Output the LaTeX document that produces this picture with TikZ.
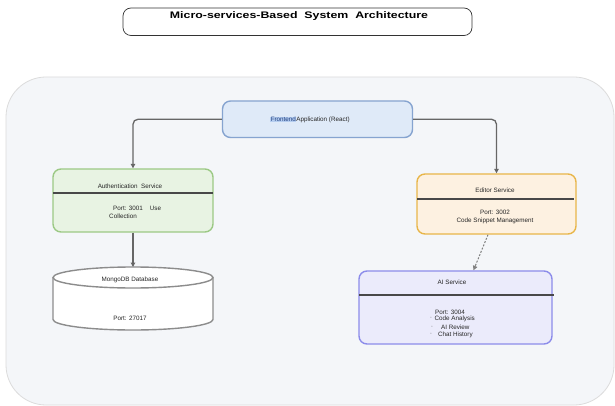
\documentclass[tikz,border=0pt]{standalone}
\usepackage{fontspec}
\setmainfont{Liberation Sans}
\newfontfamily\headfont[FakeStretch=1.3]{Liberation Sans}
\usetikzlibrary{arrows.meta}

\definecolor{panelfill}{HTML}{F4F6F9}
\definecolor{panelline}{HTML}{DCDCDC}
\definecolor{fefill}{HTML}{DFEAF8}
\definecolor{feline}{HTML}{86A4D0}
\definecolor{authfill}{HTML}{E8F3E3}
\definecolor{authline}{HTML}{9CC985}
\definecolor{edfill}{HTML}{FDF1E1}
\definecolor{edline}{HTML}{E8B64A}
\definecolor{aifill}{HTML}{EBEBFB}
\definecolor{ailine}{HTML}{8C8CEA}
\definecolor{linkgray}{HTML}{666666}
\definecolor{divgray}{HTML}{484848}
\definecolor{hlblue}{HTML}{B6CEF0}
\definecolor{hltext}{HTML}{1F3F80}

\tikzset{
  box/.style={draw, rounded corners=8pt, line width=1.4pt, inner sep=0pt},
  label/.style={font=\fontsize{6.3}{7}\selectfont, text=black!85, inner sep=0pt},
  divider/.style={draw=divgray, line width=1.8pt},
  link/.style={draw=linkgray, line width=1.3pt, -{Triangle[length=4.5pt,width=4.5pt]}},
}

\begin{document}
\begin{tikzpicture}[x=1pt,y=-1pt]
\useasboundingbox (0,0) rectangle (615,406);
\fill[white] (0,0) rectangle (615,406);

% background panel
\draw[fill=panelfill, draw=panelline, line width=0.8pt, rounded corners=40pt]
  (6,77) rectangle (614,405);

% title
\node[draw=black!80, line width=0.7pt, rounded corners=8pt, fill=white,
      minimum width=349pt, minimum height=27.5pt, inner sep=0pt]
  (titlebox) at (297.5,21.75) {};
\node[inner sep=0pt, font=\headfont\bfseries\fontsize{9.5}{11}\selectfont]
  (title) at (299,16) {Micro-services-Based\ \ System\ \ Architecture};

% service boxes
\node[box, fill=fefill, draw=feline, minimum width=190pt, minimum height=36.5pt]
  (fe) at (317.5,119.25) {};
\node[box, fill=authfill, draw=authline, minimum width=160pt, minimum height=63pt]
  (auth) at (133,200.5) {};
\node[box, fill=edfill, draw=edline, minimum width=159pt, minimum height=60pt]
  (ed) at (496.5,204) {};
\node[box, fill=aifill, draw=ailine, minimum width=193pt, minimum height=73pt]
  (ai) at (455.5,307.5) {};

% section dividers
\coordinate (authdl) at (53,192.7);  \coordinate (authdr) at (213,192.7);
\coordinate (eddl) at (417,199);     \coordinate (eddr) at (574,199);
\coordinate (aidl) at (359,295);     \coordinate (aidr) at (554,295);
\draw[divider] (authdl) -- (authdr);
\draw[divider] (eddl) -- (eddr);
\draw[divider] (aidl) -- (aidr);

% database cylinder
\coordinate (dbtop) at (133,267);
\draw[fill=white, draw=black!45, line width=1.4pt]
  (53,277.5) -- (53,319.5)
  arc[start angle=180, end angle=360, x radius=80pt, y radius=10.5pt]
  -- (213,277.5);
\draw[fill=white, draw=black!45, line width=1.4pt]
  (133,277.5) ellipse[x radius=80pt, y radius=10.5pt];

% texts
\node[label] (fetext) at (310,120)
  {{\setlength{\fboxsep}{0.4pt}\colorbox{hlblue}{\textcolor{hltext}{Frontend}}}Application (React)};

\node[label] (authtitle) at (130,186) {Authentication\ \ Service};
\node[label, anchor=west] (authport) at (113,208) {Port: 3001\hspace{7pt}Use};
\node[label, anchor=west] (authcoll) at (109,216) {Collection};

\node[label] (edtitle) at (495,190) {Editor Service};
\node[label] (edport) at (495,212) {Port: 3002};
\node[label] (eddesc) at (495,221) {Code Snippet Management};

\node[label] (dbtitle) at (130,280) {MongoDB Database};
\node[label] (dbport) at (130,318) {Port: 27017};

\node[label] (aititle) at (452,282) {AI Service};
\node[label, anchor=west] (aiport) at (435,312) {Port: 3004};
\node[label, anchor=west] (aia) at (430.5,319)
  {\raisebox{2.2pt}{\fontsize{2.5}{3}\selectfont •}\hspace{3pt}Code Analysis};
\node[label, anchor=west] (aib) at (431.5,327)
  {\raisebox{2.2pt}{\fontsize{2.5}{3}\selectfont •}\hspace{8.5pt}AI Review};
\node[label, anchor=west] (aic) at (430.5,335)
  {\raisebox{2.2pt}{\fontsize{2.5}{3}\selectfont •}\hspace{6.5pt}Chat History};

% connectors
\draw[link, rounded corners=5pt] (fe.west) -| (auth.north);
\draw[link, rounded corners=5pt] (fe.east) -| (ed.north);
\draw[link] (auth.south) -- (dbtop);
\draw[link, line width=1pt, dash pattern=on 2pt off 1.5pt, draw=black!50]
  ([xshift=-8.5pt]ed.south) -- ([xshift=18pt]ai.north);
\end{tikzpicture}
\end{document}
